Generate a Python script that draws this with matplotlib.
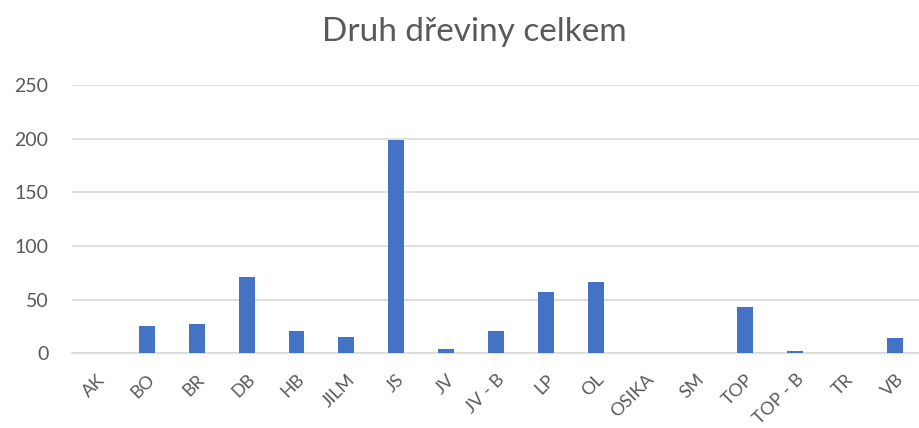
import matplotlib
matplotlib.use('Agg')
import matplotlib.pyplot as plt

plt.rcParams['font.family'] = ['Lato', 'DejaVu Sans']

druhy = ['AK', 'BO', 'BR', 'DB', 'HB', 'JILM', 'JS', 'JV', 'JV - B', 'LP',
         'OL', 'OSIKA', 'SM', 'TOP', 'TOP - B', 'TR', 'VB']
pocty = [0, 25, 27, 71, 21, 15, 199, 4, 21, 57, 66, 0, 0, 43, 2, 0, 14]
y_ticks = [0, 50, 100, 150, 200, 250]

text_color = '#595959'
grid_color = '#d9d9d9'

fig = plt.figure(figsize=(9.2, 4.28), dpi=100)
ax = fig.add_axes([0.0783, 0.1745, 0.9217, 0.627])

x = list(range(len(druhy)))
ax.bar(x, pocty, width=0.32, color='#4472c4', zorder=3)

ax.set_xlim(-0.5, len(druhy) - 0.5)
ax.set_ylim(0, 250)
ax.set_yticks(y_ticks)
ax.set_xticks(x)
ax.set_xticklabels(druhy, rotation=45, ha='right', rotation_mode='anchor')

ax.yaxis.grid(True, color=grid_color, linewidth=1.2, zorder=0)
for s in ['top', 'right', 'left']:
    ax.spines[s].set_visible(False)
ax.spines['bottom'].set_color(grid_color)
ax.spines['bottom'].set_linewidth(1.2)

ax.tick_params(axis='both', length=0, colors=text_color)
ax.tick_params(axis='y', pad=17, labelsize=14)
ax.tick_params(axis='x', pad=13, labelsize=13)

fig.text(0.516, 0.925, 'Druh dřeviny celkem', ha='center', va='center',
         fontsize=24, color=text_color)

fig.savefig('out.png', dpi=100)
